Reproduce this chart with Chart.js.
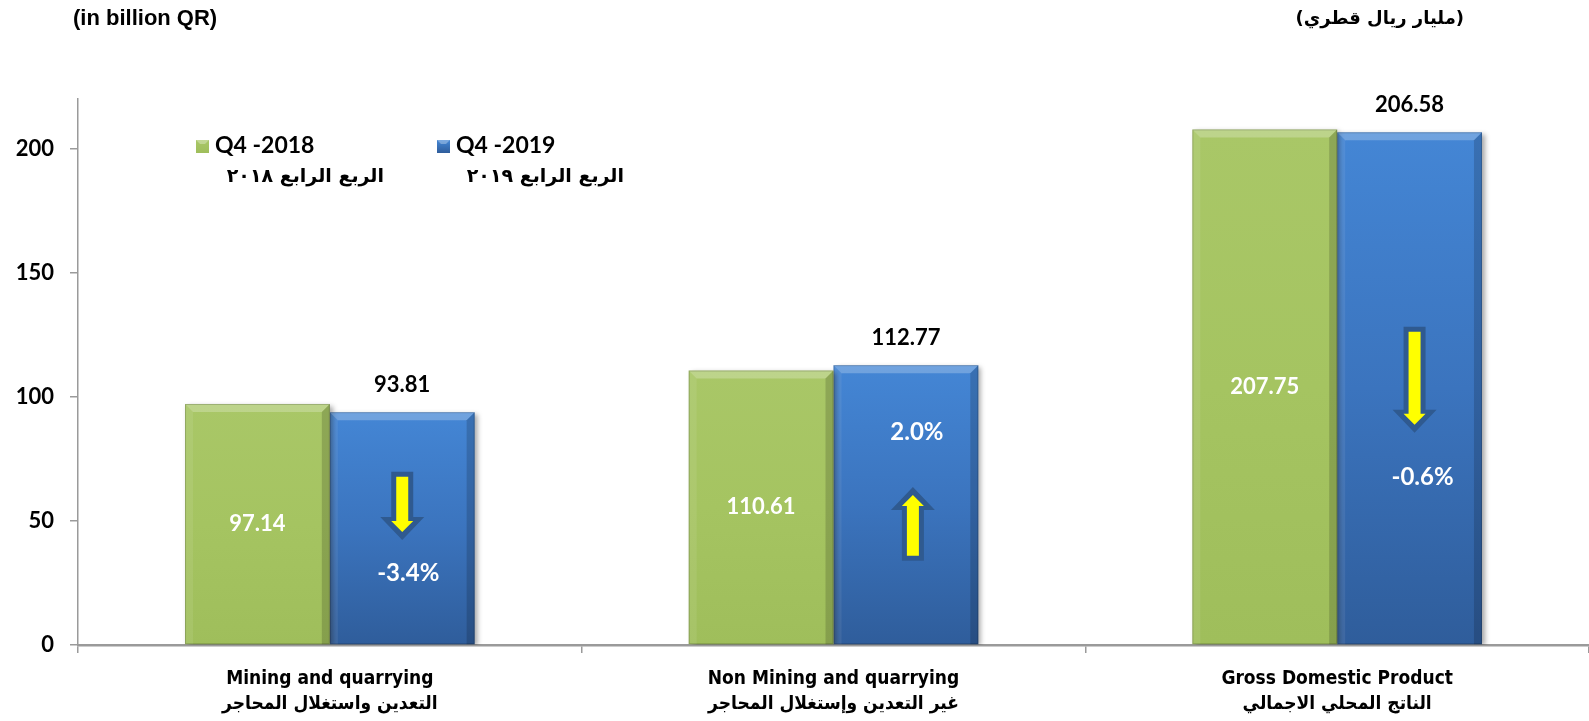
<!DOCTYPE html>
<html>
<head>
<meta charset="utf-8">
<script src="https://cdn.jsdelivr.net/npm/chart.js@4"></script>
<style>
  html, body { margin: 0; padding: 0; background: #ffffff; }
  #wrap { position: relative; width: 1589px; height: 721px; }
</style>
</head>
<body>
<div id="wrap"><canvas id="c" width="1589" height="721"></canvas></div>
<script>
// ---- data ----
const categoriesEn = ['Mining and quarrying', 'Non Mining and quarrying', 'Gross Domestic Product'];
const categoriesAr = ['التعدين واستغلال المحاجر', 'غير التعدين وإستغلال المحاجر', 'الناتج المحلي الاجمالي'];
const seriesNames = ['Q4 -2018', 'Q4 -2019'];
const seriesNamesAr = ['الربع الرابع ٢٠١٨', 'الربع الرابع ٢٠١٩'];
const q4_2018 = [97.14, 110.61, 207.75];
const q4_2019 = [93.81, 112.77, 206.58];
const changePct = ['-3.4%', '2.0%', '-0.6%'];
const yTickValues = [0, 50, 100, 150, 200];
const unitEn = '(in billion QR)';
const unitAr = '(مليار ريال قطري)';

// ---- annotation layout (value-space positions for arrows / % labels) ----
const arrowLayout = [
  { from: 69.8, to: 42.3, dx: 0, label: 29.0, ldx: 6 },
  { from: 33.9, to: 63.7, dx: 7, label: 85.9, ldx: 11 },
  { from: 128.2, to: 85.5, dx: 5, label: 67.7, ldx: 13 }
];

const numFont = 'Lato, "Open Sans", sans-serif';

function barGradient(ctx, colors) {
  const chart = ctx.chart;
  if (!chart.chartArea || !chart.scales.y) return colors[1];
  const y = chart.scales.y;
  const top = y.getPixelForValue(ctx.raw);
  const bot = y.getPixelForValue(0);
  const g = chart.ctx.createLinearGradient(0, top, 0, bot);
  g.addColorStop(0, colors[0]);
  g.addColorStop(0.5, colors[1]);
  g.addColorStop(1, colors[2]);
  return g;
}

const greenCols = ['#a9c767', '#a5c461', '#9fbe5b'];
const blueCols = ['#4486d5', '#3b74be', '#2f5d9b'];

const shadowPlugin = {
  id: 'shadow',
  beforeDatasetsDraw(chart) {
    const c = chart.ctx;
    c.save();
    c.shadowColor = 'rgba(0,0,0,0.35)';
    c.shadowBlur = 5;
    c.shadowOffsetX = 3;
    c.shadowOffsetY = 2;
  },
  afterDatasetsDraw(chart) {
    chart.ctx.restore();
  }
};

function drawBevel(c, el) {
  const w = el.width;
  const l = el.x - w / 2, r = el.x + w / 2, t = el.y, b = el.base;
  const s = 8;
  c.save();
  c.fillStyle = 'rgba(255,255,255,0.24)';
  c.beginPath(); c.moveTo(l, t); c.lineTo(r, t); c.lineTo(r - s, t + s); c.lineTo(l + s, t + s); c.closePath(); c.fill();
  c.fillStyle = 'rgba(255,255,255,0.08)';
  c.beginPath(); c.moveTo(l, t); c.lineTo(l + s, t + s); c.lineTo(l + s, b); c.lineTo(l, b); c.closePath(); c.fill();
  c.fillStyle = 'rgba(0,0,0,0.16)';
  c.beginPath(); c.moveTo(r, t); c.lineTo(r - s, t + s); c.lineTo(r - s, b); c.lineTo(r, b); c.closePath(); c.fill();
  c.strokeStyle = 'rgba(0,0,0,0.18)';
  c.lineWidth = 1;
  c.strokeRect(l + 0.5, t + 0.5, w - 1, b - t - 1);
  c.restore();
}

function arrowPath(c, cx, yTail, yTip, shaftHalf, headHalf, headLen) {
  const dir = yTip > yTail ? 1 : -1;
  const yBase = yTip - dir * headLen;
  c.beginPath();
  c.moveTo(cx - shaftHalf, yTail);
  c.lineTo(cx + shaftHalf, yTail);
  c.lineTo(cx + shaftHalf, yBase);
  c.lineTo(cx + headHalf, yBase);
  c.lineTo(cx, yTip);
  c.lineTo(cx - headHalf, yBase);
  c.lineTo(cx - shaftHalf, yBase);
  c.closePath();
}

const decoPlugin = {
  id: 'deco',
  afterDatasetsDraw(chart) {
    const c = chart.ctx;
    const ys = chart.scales.y;
    [0, 1].forEach(di => {
      chart.getDatasetMeta(di).data.forEach(el => drawBevel(c, el));
    });
    c.save();
    c.textAlign = 'center';
    c.textBaseline = 'middle';
    c.font = 'bold 22px ' + numFont;
    chart.getDatasetMeta(0).data.forEach((el, i) => {
      c.fillStyle = '#ffffff';
      c.fillText(q4_2018[i].toFixed(2), el.x, (el.y + el.base) / 2);
    });
    chart.getDatasetMeta(1).data.forEach((el, i) => {
      c.fillStyle = '#000000';
      c.fillText(q4_2019[i].toFixed(2), el.x, el.y - 27);
    });
    chart.getDatasetMeta(1).data.forEach((el, i) => {
      const a = arrowLayout[i];
      const cx = el.x + a.dx;
      const yFrom = ys.getPixelForValue(a.from);
      const yTo = ys.getPixelForValue(a.to);
      const dir = yTo > yFrom ? 1 : -1;
      c.fillStyle = '#2f5a90';
      arrowPath(c, cx, yFrom, yTo, 11, 22, 23);
      c.fill();
      c.fillStyle = '#ffff00';
      arrowPath(c, cx, yFrom + dir * 5, yTo - dir * 8, 6, 11, 11);
      c.fill();
      c.fillStyle = '#ffffff';
      c.font = 'bold 24px ' + numFont;
      c.fillText(changePct[i], el.x + a.ldx, ys.getPixelForValue(a.label));
    });
    c.restore();
  },
  afterDraw(chart) {
    const c = chart.ctx;
    c.save();
    c.fillStyle = '#000';
    c.textBaseline = 'middle';
    c.font = 'bold 22px "Liberation Sans", Arial, sans-serif';
    c.textAlign = 'left';
    c.fillText(unitEn, 73, 19);
    c.textAlign = 'right';
    c.font = 'bold 18px "DejaVu Sans", sans-serif';
    c.fillText(unitAr, 1464, 19);
    const legendX = [196, 437];
    const cols = [greenCols, blueCols];
    legendX.forEach((lx, i) => {
      const g = c.createLinearGradient(0, 140, 0, 153);
      g.addColorStop(0, cols[i][0]); g.addColorStop(1, cols[i][2]);
      c.fillStyle = g;
      c.fillRect(lx, 140, 13, 13);
      c.fillStyle = 'rgba(255,255,255,0.3)';
      c.beginPath(); c.moveTo(lx, 140); c.lineTo(lx + 13, 140); c.lineTo(lx + 9, 144); c.lineTo(lx + 4, 144); c.closePath(); c.fill();
      c.fillStyle = '#000';
      c.textAlign = 'left';
      c.textBaseline = 'middle';
      c.font = 'bold 23px ' + numFont;
      c.fillText(seriesNames[i], lx + 19, 146);
      c.textAlign = 'right';
      c.font = 'bold 19px "DejaVu Sans", sans-serif';
      c.fillText(seriesNamesAr[i], [384, 624][i], 177);
    });
    c.restore();
  }
};

new Chart(document.getElementById('c'), {
  type: 'bar',
  data: {
    labels: categoriesEn.map((e, i) => [e, categoriesAr[i]]),
    datasets: [
      { label: seriesNames[0], data: q4_2018, backgroundColor: ctx => barGradient(ctx, greenCols),
        barPercentage: 1, categoryPercentage: 0.575, borderWidth: 0 },
      { label: seriesNames[1], data: q4_2019, backgroundColor: ctx => barGradient(ctx, blueCols),
        barPercentage: 1, categoryPercentage: 0.575, borderWidth: 0 }
    ]
  },
  options: {
    responsive: false,
    animation: false,
    devicePixelRatio: 1,
    layout: { padding: { top: 99, right: 0, left: 0, bottom: 0 } },
    plugins: { legend: { display: false }, tooltip: { enabled: false }, title: { display: false } },
    scales: {
      x: {
        offset: true,
        grid: { display: true, offset: true, drawOnChartArea: false, drawTicks: true, tickLength: 8, color: '#9a9a9a', lineWidth: 1.5 },
        border: { display: true, color: '#9a9a9a', width: 2.5 },
        ticks: {
          color: '#000',
          padding: 13,
          maxRotation: 0,
          font: { family: '"Liberation Sans Narrow", "DejaVu Sans Condensed", sans-serif', size: 19, weight: 'bold', lineHeight: 1.35 }
        },
        afterFit(scale) { scale.height = 76; }
      },
      y: {
        min: 0, max: 220,
        afterBuildTicks(scale) { scale.ticks = yTickValues.map(v => ({ value: v })); },
        grid: { display: true, drawOnChartArea: false, drawTicks: true, tickLength: 8, color: '#9a9a9a', lineWidth: 1.5 },
        border: { display: true, color: '#9a9a9a', width: 1.5 },
        ticks: {
          color: '#000',
          padding: 16,
          font: { family: numFont, size: 22, weight: 'bold' }
        },
        afterFit(scale) { scale.width = 78; }
      }
    }
  },
  plugins: [shadowPlugin, decoPlugin]
});
</script>
</body>
</html>
